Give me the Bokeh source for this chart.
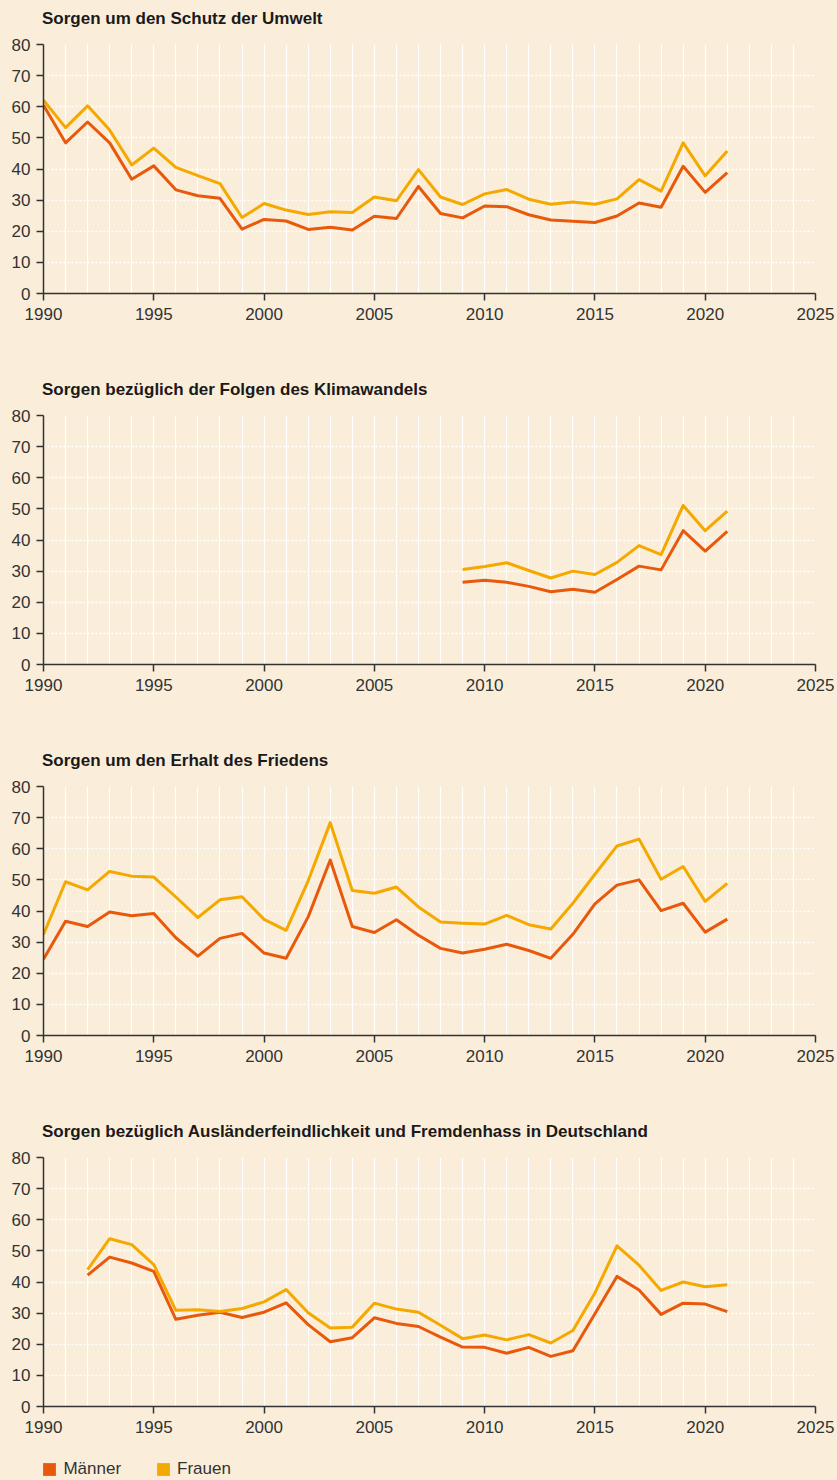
from bokeh.plotting import figure
from bokeh.layouts import column
from bokeh.models import Range1d, SingleIntervalTicker, Legend, LegendItem, Div
from bokeh.embed import file_html
from bokeh.resources import INLINE

# ---------------- data ----------------
series_names = ["Männer", "Frauen"]

titles = [
    "Sorgen um den Schutz der Umwelt",
    "Sorgen bezüglich der Folgen des Klimawandels",
    "Sorgen um den Erhalt des Friedens",
    "Sorgen bezüglich Ausländerfeindlichkeit und Fremdenhass in Deutschland",
]

years_umwelt = list(range(1990, 2022))
umwelt_maenner = [60.5, 48.4, 55.1, 48.4, 36.7, 41.0, 33.3, 31.4, 30.6, 20.7,
                  23.8, 23.3, 20.6, 21.3, 20.4, 24.8, 24.1, 34.4, 25.7, 24.3,
                  28.1, 27.9, 25.3, 23.6, 23.2, 22.8, 24.9, 29.1, 27.7, 40.9,
                  32.5, 38.8]
umwelt_frauen = [62.1, 53.3, 60.3, 52.5, 41.3, 46.7, 40.5, 37.9, 35.3, 24.4,
                 28.9, 26.8, 25.4, 26.3, 26.0, 31.0, 29.8, 39.8, 31.0, 28.6,
                 32.0, 33.4, 30.3, 28.7, 29.4, 28.7, 30.4, 36.6, 32.9, 48.4,
                 37.8, 45.8]

years_klima = list(range(2009, 2022))
klima_maenner = [26.4, 27.1, 26.4, 25.1, 23.4, 24.2, 23.2, 27.3, 31.6, 30.4,
                 43.0, 36.4, 42.8]
klima_frauen = [30.5, 31.5, 32.7, 30.2, 27.8, 30.0, 28.9, 32.8, 38.2, 35.3,
                51.1, 43.0, 49.3]

years_frieden = list(range(1990, 2022))
frieden_maenner = [24.5, 36.7, 35.0, 39.7, 38.5, 39.2, 31.4, 25.5, 31.2, 32.8,
                   26.5, 24.8, 38.1, 56.4, 35.0, 33.1, 37.2, 32.2, 28.0, 26.5,
                   27.7, 29.3, 27.3, 24.8, 32.5, 42.3, 48.3, 50.0, 40.1, 42.5,
                   33.2, 37.4]
frieden_frauen = [32.5, 49.4, 46.8, 52.7, 51.2, 50.9, 44.5, 37.9, 43.6, 44.6,
                  37.3, 33.8, 49.7, 68.4, 46.6, 45.7, 47.7, 41.3, 36.5, 36.1,
                  35.8, 38.6, 35.6, 34.2, 42.5, 51.8, 60.9, 63.1, 50.2, 54.3,
                  43.1, 48.9]

years_fremd = list(range(1992, 2022))
fremd_maenner = [42.2, 48.0, 46.1, 43.4, 28.0, 29.3, 30.3, 28.6,
                 30.3, 33.3, 26.3, 20.8, 22.1, 28.5, 26.7, 25.7, 22.3, 19.1,
                 19.0, 17.1, 19.0, 16.1, 17.9, 29.8, 41.8, 37.4, 29.6, 33.2,
                 32.9, 30.5]
fremd_frauen = [44.0, 53.9, 52.0, 45.6, 30.9, 31.1, 30.5, 31.5,
                33.6, 37.6, 30.1, 25.2, 25.5, 33.2, 31.3, 30.3, 26.1, 21.8,
                23.0, 21.4, 23.1, 20.4, 24.4, 36.5, 51.6, 45.4, 37.3, 40.0,
                38.5, 39.1]

# ---------------- style ----------------
BG = "#FAEEDA"
C_M = "#E8590C"
C_F = "#F5A800"
TXT = "#333333"
FONT = "Liberation Sans"


def make_title(title):
    html = ('<div style="margin:0; padding:9px 0 0 42px; font-family:\'Liberation Sans\', Arial, sans-serif; '
            'font-size:17px; font-weight:bold; line-height:20px; color:#1a1a1a; white-space:nowrap;">'
            + title + '</div>')
    return Div(text=html, width=837, height=30, margin=(0, 0, 0, 0),
               styles={"background-color": BG})


def make_chart(years, m, f, bottom):
    p = figure(
        frame_width=772, frame_height=249,
        x_range=Range1d(1990, 2025), y_range=Range1d(0, 80),
        output_backend="svg", toolbar_location=None,
        min_border_left=43, min_border_right=22,
        min_border_top=14, min_border_bottom=bottom,
        background_fill_color=BG, border_fill_color=BG,
        outline_line_color=None,
    )
    p.xaxis.ticker = SingleIntervalTicker(interval=5, num_minor_ticks=0)
    p.yaxis.ticker = SingleIntervalTicker(interval=10, num_minor_ticks=0)
    p.xgrid.ticker = SingleIntervalTicker(interval=1, num_minor_ticks=0)

    for ax in (p.xaxis, p.yaxis):
        ax.axis_line_color = TXT
        ax.axis_line_width = 1.5
        ax.major_tick_line_color = TXT
        ax.major_tick_line_width = 1.5
        ax.major_tick_out = 7
        ax.major_tick_in = 0
        ax.minor_tick_line_color = None
        ax.major_label_text_font = FONT
        ax.major_label_text_font_size = "17px"
        ax.major_label_text_color = TXT
    p.xaxis.major_label_standoff = 7
    p.yaxis.major_label_standoff = 6

    p.xgrid.grid_line_color = "white"
    p.xgrid.grid_line_width = 1.2
    p.ygrid.grid_line_color = "white"
    p.ygrid.grid_line_width = 1.5
    p.ygrid.grid_line_dash = "2 2"

    p.line(years, m, line_color=C_M, line_width=3, line_join="round")
    p.line(years, f, line_color=C_F, line_width=3, line_join="round")
    return p


p1 = make_chart(years_umwelt, umwelt_maenner, umwelt_frauen, 78)
p2 = make_chart(years_klima, klima_maenner, klima_frauen, 78)
p3 = make_chart(years_frieden, frieden_maenner, frieden_frauen, 78)
p4 = make_chart(years_fremd, fremd_maenner, fremd_frauen, 44)

# legend strip (frame is aligned with the chart frames by the column layout)
pl = figure(
    width=837, height=30, x_range=Range1d(0, 1), y_range=Range1d(0, 1),
    output_backend="svg", toolbar_location=None,
    x_axis_type=None, y_axis_type=None,
    min_border_left=0, min_border_right=0, min_border_top=0, min_border_bottom=0,
    background_fill_color=BG, border_fill_color=BG, outline_line_color=None,
)
pl.xgrid.visible = False
pl.ygrid.visible = False
sw_m = pl.quad(left=[-3], right=[-2], top=[-2], bottom=[-3], fill_color=C_M, line_color=None)
sw_f = pl.quad(left=[-3], right=[-2], top=[-2], bottom=[-3], fill_color=C_F, line_color=None)
legend = Legend(
    items=[LegendItem(label=series_names[0], renderers=[sw_m]),
           LegendItem(label=series_names[1], renderers=[sw_f])],
    orientation="horizontal", location=(-1.6, 1),
    glyph_width=16, glyph_height=16, label_height=16,
    label_standoff=6, spacing=34, padding=0, margin=0,
    label_text_font=FONT, label_text_font_size="17px", label_text_color=TXT,
    background_fill_alpha=0, border_line_alpha=0,
)
pl.add_layout(legend, "center")

layout = column(make_title(titles[0]), p1,
                make_title(titles[1]), p2,
                make_title(titles[2]), p3,
                make_title(titles[3]), p4,
                pl, spacing=0)
html = file_html(layout, INLINE)
html = html.replace("</head>",
                    "<style>html, body { background-color: #FAEEDA !important; }</style>\n</head>", 1)
open("out.html", "w").write(html)
